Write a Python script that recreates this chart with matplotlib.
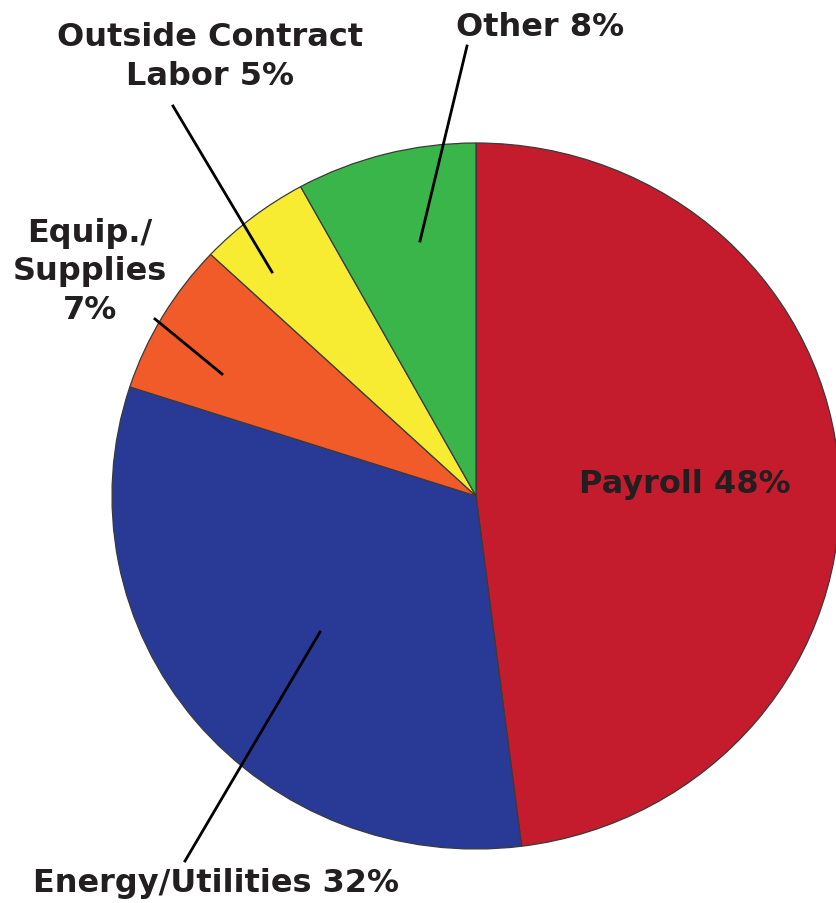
import matplotlib
matplotlib.use("Agg")
import matplotlib.pyplot as plt

categories = ["Payroll", "Energy/Utilities", "Equip./Supplies", "Outside Contract Labor", "Other"]
values = [48, 32, 7, 5, 8]
colors = ["#C41C2C", "#283A96", "#F15A29", "#F7EC32", "#39B54A"]
label_texts = ["Payroll 48%", "Energy/Utilities 32%", "Equip./\nSupplies\n7%",
               "Outside Contract\nLabor 5%", "Other 8%"]

W, H = 836, 904
fig = plt.figure(figsize=(W / 100, H / 100), dpi=100)

# pie axes (slightly elliptical, as in the reference)
ax = fig.add_axes([0, 0, 1, 1])
cx, cy, rx, ry = 476, 497, 364, 353
ax.pie(values, colors=colors, startangle=90, counterclock=False,
       center=(0, 0), radius=1,
       wedgeprops=dict(edgecolor="#3a3a3a", linewidth=0.9))
ax.set_aspect("auto")
ax.set_xlim(-cx / rx, (W - cx) / rx)
ax.set_ylim(-(H - cy) / ry, cy / ry)
ax.axis("off")

# overlay axes in pixel coordinates for labels
ov = fig.add_axes([0, 0, 1, 1])
ov.set_xlim(0, W)
ov.set_ylim(H, 0)
ov.axis("off")

font = dict(family=["DejaVu Sans"], fontweight="bold",
            color="#231f20", ha="center", va="center")

label_pos = [(685, 485), (216, 884), (90, 272), (210, 57), (540, 28)]
leader_lines = [None,
                ((185, 862), (320, 633)),
                ((155, 320), (222, 375)),
                ((173, 107), (272, 273)),
                ((467, 47), (420, 242))]

for txt, (x, y), ln in zip(label_texts, label_pos, leader_lines):
    ov.text(x, y, txt, fontsize=23, linespacing=1.3, **font)
    if ln is not None:
        (x0, y0), (x1, y1) = ln
        ov.plot([x0, x1], [y0, y1], color="black", lw=2)

fig.savefig("out.png", dpi=100)
